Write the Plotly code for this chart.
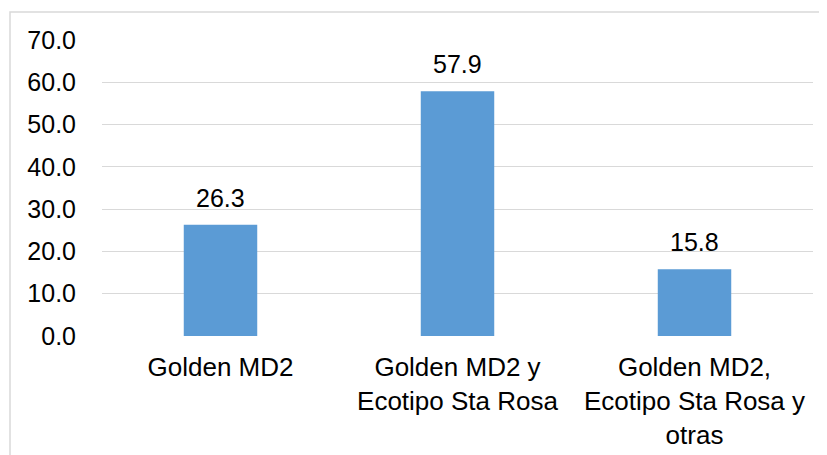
import plotly.graph_objects as go

# Data
categories = [
    "Golden MD2",
    "Golden MD2 y<br>Ecotipo Sta Rosa",
    "Golden MD2,<br>Ecotipo Sta Rosa y<br>otras",
]
values = [26.3, 57.9, 15.8]
tick_vals = [0, 10, 20, 30, 40, 50, 60, 70]
tick_text = [f"{v:.1f}" for v in tick_vals]

FONT = "Liberation Sans, Arial, sans-serif"
BAR_COLOR = "#5B9BD5"
GRID = "#D9D9D9"

fig = go.Figure()

fig.add_trace(go.Bar(
    x=categories,
    y=values,
    marker_color=BAR_COLOR,
    marker_line_width=0,
    showlegend=False,
    hoverinfo="skip",
))

# Data labels above bars
for cat, val in zip(categories, values):
    fig.add_annotation(
        x=cat, y=val, text=f"{val:.1f}",
        showarrow=False, yanchor="bottom", yshift=11,
        font=dict(family=FONT, size=25, color="#000000"),
    )

# Outer chart border (right/bottom run off the canvas, as in the reference)
fig.add_shape(
    type="rect", xref="paper", yref="paper",
    x0=-0.1294, x1=1.04, y0=-0.45, y1=1.0946,
    line=dict(color=GRID, width=1.5), fillcolor="rgba(0,0,0,0)",
    layer="below",
)

# page body has an 8px margin, so the figure is sized to fit the window
fig.update_layout(
    width=819, height=447,
    margin=dict(l=94, r=14, t=32, b=119, autoexpand=False),
    paper_bgcolor="white",
    plot_bgcolor="white",
    bargap=0.69,
    font=dict(family=FONT, size=25, color="#000000"),
    xaxis=dict(
        showgrid=False, showline=False, zeroline=False, automargin=False,
        ticks="outside", ticklen=8, tickcolor="rgba(0,0,0,0)",
        tickfont=dict(size=26),
    ),
    yaxis=dict(
        range=[0, 70], tickvals=tick_vals, ticktext=tick_text,
        showgrid=True, gridcolor=GRID, gridwidth=1.3,
        zeroline=False, showline=False, automargin=False,
        ticks="outside", ticklen=20, tickcolor="rgba(0,0,0,0)",
        tickfont=dict(size=25),
    ),
)

fig.write_html("out.html")
